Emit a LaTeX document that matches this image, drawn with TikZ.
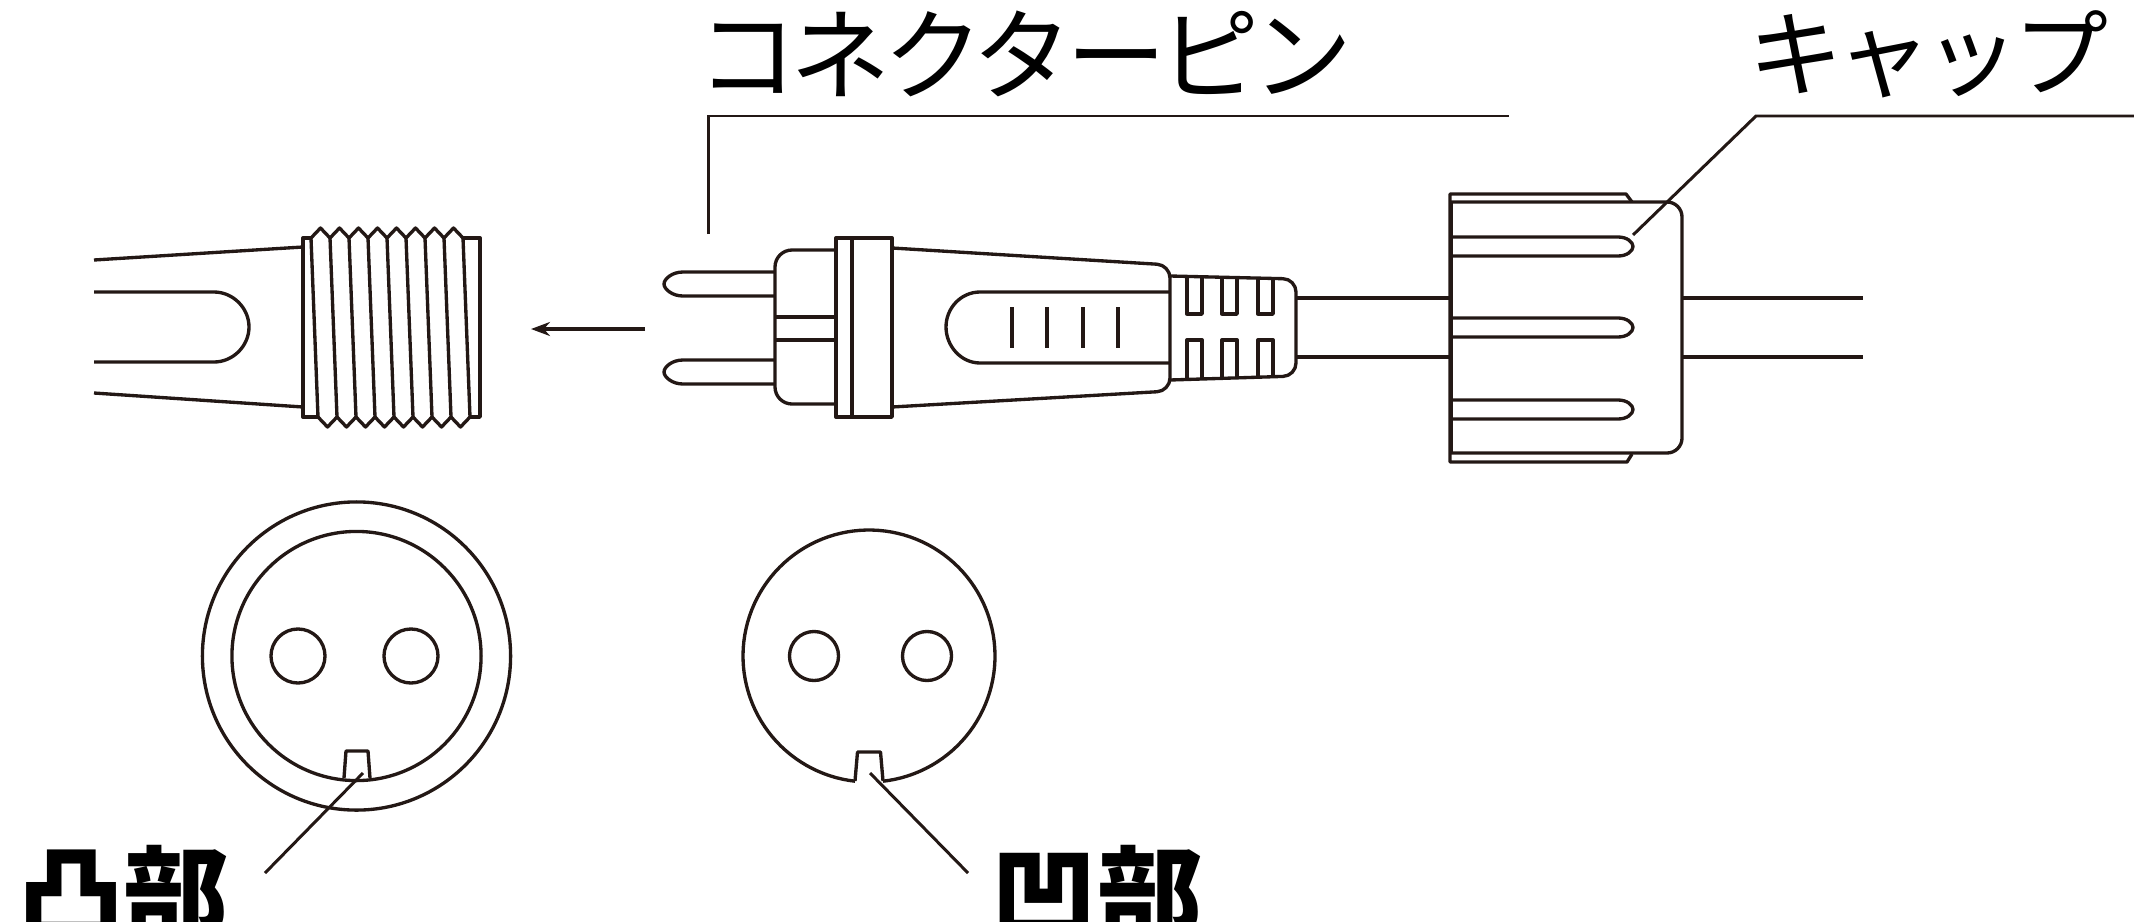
\documentclass[tikz,border=0pt]{standalone}
\usepackage{fontspec}
\newfontfamily\cjk{Noto Sans CJK JP}
\newfontfamily\cjktight[LetterSpace=-7]{Noto Sans CJK JP}
\usetikzlibrary{arrows.meta}
\definecolor{inkline}{HTML}{231815}
\begin{document}
\begin{tikzpicture}[
		x=0.01cm, y=-0.01cm,
		part/.style={draw=inkline, line width=0.95pt, line join=round},
		leader/.style={draw=inkline, line width=0.85pt},
		bigcircle/.style={circle, draw=inkline, line width=0.95pt, inner sep=0pt},
		hole/.style={bigcircle, minimum size=5.4mm},
		holesmall/.style={bigcircle, minimum size=4.9mm},
		partname/.style={inner sep=0pt, font=\cjktight\fontsize{28.5}{32}\selectfont},
		capname/.style={inner sep=0pt, font=\cjktight\fontsize{27}{32}\selectfont},
		facename/.style={inner sep=0pt, font=\cjk\bfseries\fontsize{30}{34}\selectfont},
		>={Stealth[length=1.9mm, width=1.4mm]}
		]
		\clip (0,0) rectangle (2134,921);

		% socket side
		\draw[part] (94,260) -- (303,247);
		\draw[part] (94,393) -- (303,407);
		\draw[part] (94,292) -- (214,292) .. controls (233,292) and (249,308) .. (249,327) .. controls (249,346) and (233,362) .. (214,362) -- (94,362);
		\draw[part] (311,238) -- (303,238) -- (303,417) -- (318,417);
		\draw[part] (463,238) -- (480,238) -- (480,417) -- (470,417);
		\foreach \i in {0,...,8}
			\draw[part] ({311+19*\i},238) -- ({318+19*\i},417);
		\foreach \i in {0,...,7} {
			\draw[part] ({311+19*\i},238) -- ({320.5+19*\i},228) -- ({330+19*\i},238);
			\draw[part] ({318+19*\i},417) -- ({327.5+19*\i},427) -- ({337+19*\i},417);
		}

		% direction arrow
		\coordinate (arrowstart) at (645,329);
		\coordinate (arrowend) at (531,329);
		\draw[part, ->] (arrowstart) -- (arrowend);

		% pins
		\foreach \py in {272,360}
			\draw[part] (775,\py) -- (683,\py) .. controls (672,\py) and (664,{\py+7}) .. (664,{\py+12}) .. controls (664,{\py+17}) and (672,{\py+24}) .. (683,{\py+24}) -- (775,{\py+24});

		% plug body
		\draw[part, rounded corners=0.17cm] (836,250) -- (775,250) -- (775,404) -- (836,404);
		\draw[part] (775,317) -- (836,317);
		\draw[part] (775,340) -- (836,340);
		\draw[part] (836,238) rectangle (892,417);
		\draw[part] (852,238) -- (852,417);
		\draw[part, rounded corners=0.13cm] (892,248) -- (1170,265) -- (1170,391) -- (892,407);
		\draw[part] (1170,292) -- (980,292) .. controls (961,292) and (946,308) .. (946,327) .. controls (946,346) and (961,363) .. (980,363) -- (1170,363);
		\foreach \lx in {1012,1047,1083,1118}
			\draw[part] (\lx,307) -- (\lx,348);

		% strain relief
		\draw[part, rounded corners=0.13cm] (1170,276) -- (1296,279) -- (1296,376) -- (1170,380);
		\foreach \sx/\sy/\sz in {1187/277/379, 1222/278/378, 1258/279/377} {
			\draw[part] (\sx,\sy) -- (\sx,314) -- ({\sx+15},314) -- ({\sx+15},\sy);
			\draw[part] (\sx,\sz) -- (\sx,340) -- ({\sx+15},340) -- ({\sx+15},\sz);
		}

		% cord
		\draw[part] (1296,298) -- (1451,298);
		\draw[part] (1296,357) -- (1451,357);
		\draw[part] (1682,298) -- (1863,298);
		\draw[part] (1682,357) -- (1863,357);

		% cap
		\draw[part] (1632,202) -- (1626,194) -- (1450,194) -- (1450,462) -- (1627,462) -- (1632,454);
		\draw[part, rounded corners=0.15cm] (1451,202) -- (1682,202) -- (1682,453) -- (1451,453);
		\draw[part] (1451,202) -- (1451,453);
		\foreach \ry in {237,318,400}
			\draw[part] (1451,\ry) -- (1618,\ry) .. controls (1627,\ry) and (1633,{\ry+5}) .. (1633,{\ry+9.5}) .. controls (1633,{\ry+14}) and (1627,{\ry+19}) .. (1618,{\ry+19}) -- (1451,{\ry+19});

		% part names
		\node[partname] (pinname) at (1025,54) {コネクターピン};
		\node[capname] (capname) at (1928,54) {キャップ};
		\coordinate (pintip) at (708,234);
		\coordinate (pinbend) at (708,116);
		\coordinate (pinend) at (1509,116);
		\draw[leader] (pintip) -- (pinbend) -- (pinend);
		\coordinate (captip) at (1633,235);
		\coordinate (capbend) at (1756,116);
		\coordinate (capend) at (2134,116);
		\draw[leader] (captip) -- (capbend) -- (capend);

		% end views
		\node[bigcircle, minimum size=30.8mm] (outerring) at (356.5,656) {};
		\node[bigcircle, minimum size=24.9mm] (innerring) at (356.5,656) {};
		\node[hole] (holea) at (298,656) {};
		\node[hole] (holeb) at (411,656) {};
		\draw[part] (344,778) -- (346,751) -- (368,751) -- (370,778);
		\draw[part] plot[domain=96.4:443.6, samples=120] ({869+126*cos(\x)},{656+126*sin(\x)});
		\node[holesmall] (holec) at (814,656) {};
		\node[holesmall] (holed) at (927,656) {};
		\draw[part] (855,781) -- (857.5,752) -- (880.5,752) -- (883,781);

		% key names
		\node[facename] (keyname) at (124,895) {凸部};
		\node[facename] (slotname) at (1097,895) {凹部};
		\coordinate (keytip) at (363,773);
		\coordinate (keyend) at (265,873);
		\draw[leader] (keytip) -- (keyend);
		\coordinate (slottip) at (870,773);
		\coordinate (slotend) at (968,873);
		\draw[leader] (slottip) -- (slotend);
\end{tikzpicture}
\end{document}
